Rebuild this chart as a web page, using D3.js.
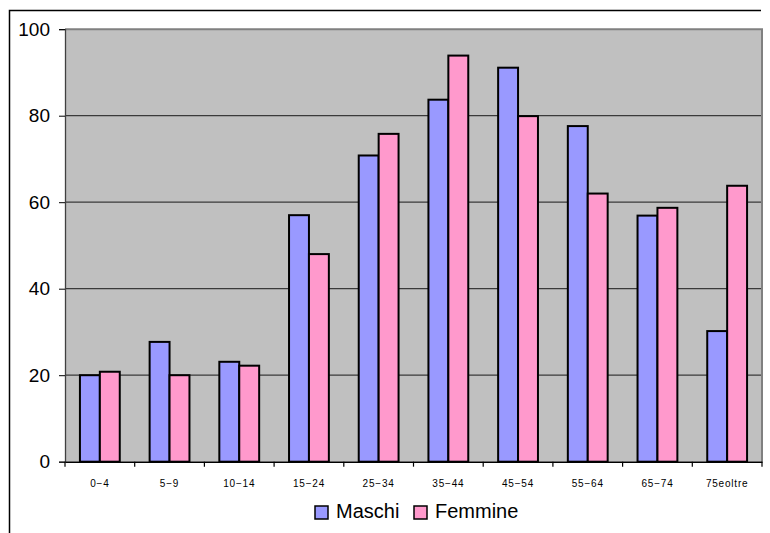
<!DOCTYPE html>
<html lang="it">
<head>
<meta charset="utf-8">
<title>Maschi / Femmine per classe di età</title>
<script src="https://cdn.jsdelivr.net/npm/d3@7"></script>
<style>
  body { margin: 0; background: #fff; }
  svg { display: block; font-family: "Liberation Sans", Arial, sans-serif; }
  .yAxis text { font-size: 19px; fill: #000; }
  .xAxis text { font-size: 10px; fill: #000; letter-spacing: 0.8px; }
  .legend text { font-size: 20px; fill: #000; }
</style>
</head>
<body>
<script>
// data
var categories = ["0\u22124", "5\u22129", "10\u221214", "15\u221224", "25\u221234", "35\u221244", "45\u221254", "55\u221264", "65\u221274", "75eoltre"];
var series = ["Maschi", "Femmine"];
var maschi  = [20, 27.7, 23.1, 57, 70.8, 83.7, 91.1, 77.6, 56.9, 30.2];
var femmine = [20.8, 20, 22.2, 48, 75.8, 93.9, 79.9, 62, 58.7, 63.8];
var yTicks = [0, 20, 40, 60, 80, 100];
var colors = ["#9999ff", "#ff99cc"];

var w = 770, h = 533;
var plotLeft = 65, plotRight = 762, plotTop = 29.2, plotBottom = 461.7;

var svg = d3.select("body").append("svg").attr("width", w).attr("height", h);

// outer frame (top + left visible)
svg.append("path")
   .attr("d", "M9.5,533V10.5H761")
   .attr("fill", "none").attr("stroke", "#000").attr("stroke-width", 1.5);

var x0 = d3.scaleBand().domain(categories).range([plotLeft, plotRight]).padding(0);
var x1 = d3.scaleBand().domain(series).range([0, x0.bandwidth()]).paddingInner(0).paddingOuter(0.75);
var y = d3.scaleLinear().domain([0, 100]).range([plotBottom, plotTop]);

// plot background
svg.append("rect")
   .attr("x", plotLeft).attr("y", plotTop)
   .attr("width", plotRight - plotLeft).attr("height", plotBottom - plotTop)
   .attr("fill", "#c0c0c0");

// grid lines
svg.append("g").selectAll("line")
   .data(yTicks.filter(function(d) { return d > 0 && d < 100; }))
   .enter().append("line")
   .attr("x1", plotLeft).attr("x2", plotRight)
   .attr("y1", function(d) { return y(d); }).attr("y2", function(d) { return y(d); })
   .attr("stroke", "#3a3a3a").attr("stroke-width", 1.3);

// plot border top/right
svg.append("path")
   .attr("d", "M" + plotLeft + "," + plotTop + "H" + plotRight + "V" + plotBottom)
   .attr("fill", "none").attr("stroke", "#808080").attr("stroke-width", 2);

// bars
var rows = categories.map(function(c, i) { return { cat: c, vals: [maschi[i], femmine[i]] }; });
var groups = svg.append("g").selectAll("g")
   .data(rows).enter().append("g")
   .attr("transform", function(d) { return "translate(" + x0(d.cat) + ",0)"; });

groups.selectAll("rect")
   .data(function(d) { return d.vals.map(function(v, j) { return { s: series[j], v: v, j: j }; }); })
   .enter().append("rect")
   .attr("x", function(d) { return x1(d.s); })
   .attr("width", x1.bandwidth())
   .attr("y", function(d) { return y(d.v); })
   .attr("height", function(d) { return plotBottom - y(d.v); })
   .attr("fill", function(d) { return colors[d.j]; })
   .attr("stroke", "#000").attr("stroke-width", 2);

// y axis
var yAxis = d3.axisLeft(y).tickValues(yTicks).tickSize(6).tickPadding(9);
var gy = svg.append("g").attr("class", "yAxis")
   .attr("transform", "translate(" + plotLeft + ",0)").call(yAxis);
gy.select(".domain").attr("stroke", "#404040").attr("stroke-width", 1.3);
gy.selectAll(".tick line").attr("stroke", "#000");

// x axis: ticks at category boundaries
var xAxis = d3.axisBottom(x0).tickSize(0).tickPadding(18);
var gx = svg.append("g").attr("class", "xAxis")
   .attr("transform", "translate(0," + plotBottom + ")").call(xAxis);
gx.select(".domain").attr("stroke", "#000").attr("stroke-width", 1.5);
gx.selectAll(".boundary")
   .data(categories.concat([null])).enter().append("line")
   .attr("x1", function(d, i) { return plotLeft + i * x0.step(); })
   .attr("x2", function(d, i) { return plotLeft + i * x0.step(); })
   .attr("y1", 0).attr("y2", 5)
   .attr("stroke", "#000").attr("stroke-width", 1.2);

// legend
var legendItems = [{ name: "Maschi", x: 315 }, { name: "Femmine", x: 414 }];
var lg = svg.append("g").attr("class", "legend");
lg.selectAll("rect").data(legendItems).enter().append("rect")
  .attr("x", function(d) { return d.x; }).attr("y", 506)
  .attr("width", 13).attr("height", 13)
  .attr("fill", function(d, i) { return colors[i]; })
  .attr("stroke", "#000").attr("stroke-width", 1.5);
lg.selectAll("text").data(legendItems).enter().append("text")
  .attr("x", function(d) { return d.x + 21; }).attr("y", 518)
  .text(function(d) { return d.name; });
</script>
</body>
</html>
